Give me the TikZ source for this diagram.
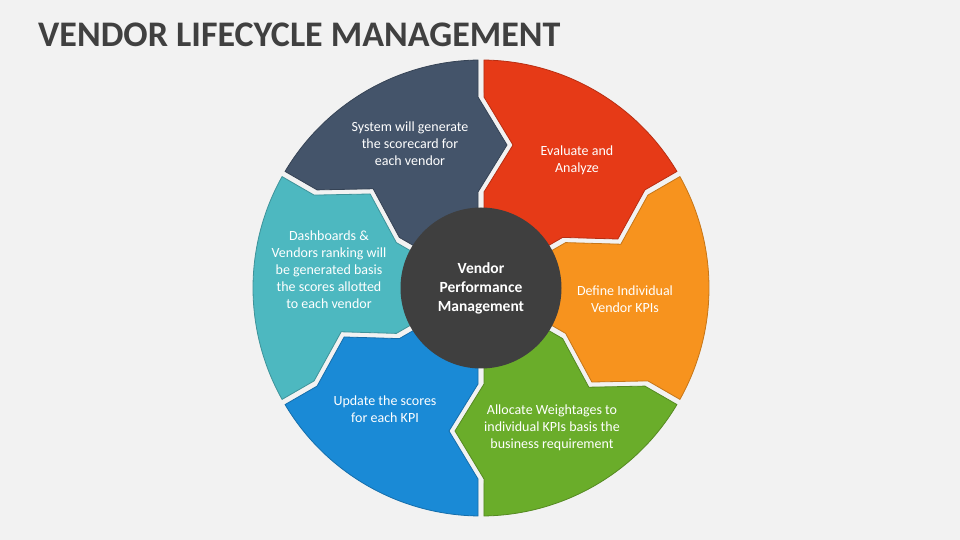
\documentclass[tikz,border=0pt]{standalone}
\usepackage{fontspec}
\setmainfont{Carlito}
\usetikzlibrary{positioning}
\definecolor{bgcol}{HTML}{F2F2F2}
\definecolor{titlecol}{HTML}{404040}
\definecolor{hubcol}{HTML}{3F3F3F}
\definecolor{segred}{HTML}{E63A17}
\definecolor{segorange}{HTML}{F7931E}
\definecolor{seggreen}{HTML}{6AAD2A}
\definecolor{segblue}{HTML}{1A8AD6}
\definecolor{segteal}{HTML}{4DB8C0}
\definecolor{segnavy}{HTML}{44546A}
\tikzset{
  segtext/.style={text=white, align=center, inner sep=0pt, font=\fontsize{14}{17}\selectfont},
  hubtext/.style={text=white, align=center, font=\fontsize{15.5}{19}\selectfont\bfseries},
}

\begin{document}
\begin{tikzpicture}[x=1pt,y=1pt]
  % page background
  \fill[bgcol] (-481,-252) rectangle (479,288);
  \useasboundingbox (-481,-252) rectangle (479,288);
  % title
  \node[anchor=base west, inner sep=0pt, text=titlecol, font=\fontsize{36}{40}\selectfont\bfseries] (title) at (-443,241) {VENDOR LIFECYCLE MANAGEMENT};
  % ring segments (notch on the ccw side, tip on the cw side)
  \foreach \a/\col in {90/segred,30/segorange,-30/seggreen,-90/segblue,-150/segteal,150/segnavy} {
    \pgfmathsetmacro\b{\a-60}
    \filldraw[fill=\col, draw=\col!80!black, line width=0.8pt]
      ([rotate=\a]70,-3) -- ([rotate=\a]96,-3) -- ([rotate=\a]143,-32) -- ([rotate=\a]191,-3)
      -- ({\a-0.75}:228pt) arc[start angle={\a-0.75}, end angle={\b+0.75}, radius=228pt]
      -- ([rotate=\b]191,3) -- ([rotate=\b]143,-26) -- ([rotate=\b]96,3) -- ([rotate=\b]70,3) -- cycle;
  }
  % hub
  \node[circle, fill=hubcol, minimum size=161pt, inner sep=0pt, hubtext] (hub) at (0,0) {Vendor\\Performance\\Management};
  % segment texts
  \node[segtext] (evaluate) at (96,128) {Evaluate and\\Analyze};
  \node[segtext] (define) at (144,-11) {Define Individual\\Vendor KPIs};
  \node[segtext] (allocate) at (71,-140) {Allocate Weightages to\\individual KPIs basis the\\business requirement};
  \node[segtext] (update) at (-96,-121) {Update the scores\\for each KPI};
  \node[segtext] (dashboards) at (-152,18) {Dashboards \&\\Vendors ranking will\\be generated basis\\the scores allotted\\to each vendor};
  \node[segtext] (system) at (-71,144) {System will generate\\the scorecard for\\each vendor};
\end{tikzpicture}
\end{document}
